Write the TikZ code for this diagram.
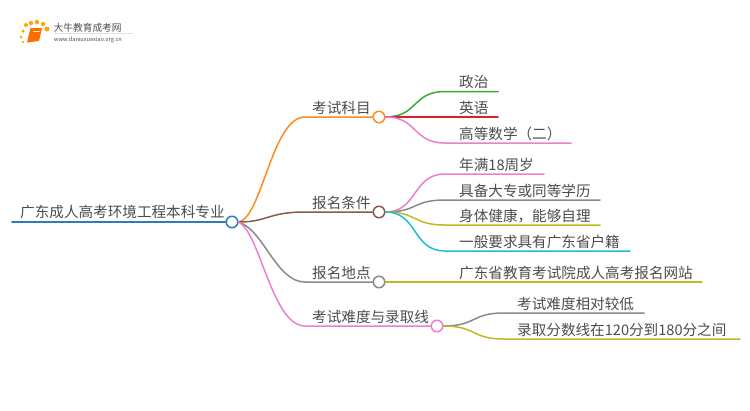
\documentclass[tikz,border=0pt]{standalone}
\usepackage{fontspec}
\setmainfont{Noto Sans CJK SC}
\definecolor{rootblue}{HTML}{2B7DBC}
\definecolor{orangeline}{HTML}{FF8A1F}
\definecolor{brownline}{HTML}{8C5A4D}
\definecolor{grayline}{HTML}{8A8A8A}
\definecolor{pinkline}{HTML}{EC7FCF}
\definecolor{greenline}{HTML}{3BAA35}
\definecolor{redline}{HTML}{DD1F2B}
\definecolor{oliveline}{HTML}{BDBB22}
\definecolor{cyanline}{HTML}{1DBFD6}
\definecolor{labelgray}{HTML}{4D4D4D}
\tikzset{
    label/.style={anchor=base west, inner sep=0pt, text=labelgray, font=\fontsize{14.6}{16}\selectfont},
    dot/.style={circle, draw=#1, fill=white, line width=1.5pt, minimum size=11.5pt, inner sep=0pt},
    branch/.style={draw=#1, line width=1.5pt, line cap=round},
    sun/.style={circle, fill=orange!70!yellow, inner sep=0pt, minimum size=#1}
}
\begin{document}
\begin{tikzpicture}[x=1pt,y=-1pt]
    \useasboundingbox[fill=white] (0,0) rectangle (750,410);

    % Logo
    \node[sun=2.5pt] (sunA) at (23,42) {};
    \node[sun=3pt] (sunB) at (21,37) {};
    \node[sun=3.5pt] (sunC) at (23,31) {};
    \node[sun=4pt] (sunD) at (26,25) {};
    \node[sun=4.5pt] (sunE) at (31,23) {};
    \node[sun=4.5pt] (sunF) at (37,22) {};
    \node[sun=4.5pt] (sunG) at (43,24) {};
    \node[sun=5pt] (sunH) at (47,29) {};
    \fill[orange!85!red] (30.5,28) -- (42,28) -- (39,41) -- (27,42.5) -- cycle;
    \draw[yellow!60!white, line width=0.7pt] (33,31) -- (39.5,31);
    \node[anchor=base west, inner sep=0pt, text=labelgray, font=\fontsize{9.7}{11}\selectfont] (logotitle) at (53.5,31) {大牛教育成考网};
    \node[anchor=base west, inner sep=0pt, text=labelgray, font=\fontsize{5.6}{7}\selectfont] (logourl) at (54,41) {www.daniuxuexiao.org.cn};
    \draw[black!12, line width=0.5pt] (55,33.5) -- (133,33.5);

    % Root
    \node[label] (root) at (20,217.5) {广东成人高考环境工程本科专业};
    \coordinate (rootstart) at (12,222);
    \node[dot=rootblue] (rootdot) at (232,222) {};
    \draw[branch=rootblue, line width=2pt] (rootstart) -- (rootdot);

    % Branch dots
    \node[dot=orangeline] (kemudot) at (379,117) {};
    \node[dot=brownline] (tiaojiandot) at (379,212) {};
    \node[dot=grayline] (didiandot) at (379,282) {};
    \node[dot=pinkline] (nandudot) at (437,326) {};

    % Branch labels
    \node[label] (kemu) at (312,113) {考试科目};
    \node[label] (tiaojian) at (312,208) {报名条件};
    \node[label] (didian) at (312,278) {报名地点};
    \node[label] (nandu) at (312,322) {考试难度与录取线};

    % Root to branches
    \coordinate (kemuelbow) at (305,117);
    \coordinate (tiaojianelbow) at (305,212);
    \coordinate (didianelbow) at (305,282);
    \coordinate (nanduelbow) at (305,326);
    \draw[branch=orangeline] (rootdot.east) .. controls (262,218) and (272,117) .. (kemuelbow) -- (kemudot);
    \draw[branch=brownline] (rootdot.east) .. controls (268,222) and (268,212) .. (tiaojianelbow) -- (tiaojiandot);
    \draw[branch=grayline] (rootdot.east) .. controls (264,230) and (276,282) .. (didianelbow) -- (didiandot);
    \draw[branch=pinkline] (rootdot.east) .. controls (260,232) and (272,326) .. (nanduelbow) -- (nandudot);

    % Leaves of first branch
    \node[label] (zhengzhi) at (459,87.5) {政治};
    \node[label] (yingyu) at (459,113) {英语};
    \node[label] (shuxue) at (459,139) {高等数学（二）};
    \coordinate (zhengzhiend) at (498,91.5);
    \coordinate (yingyuend) at (498,117);
    \coordinate (shuxueend) at (571,143);
    \draw[branch=greenline] (kemudot.east) .. controls (418,117) and (412,91.5) .. (445,91.5) -- (zhengzhiend);
    \draw[branch=redline] (kemudot.east) -- (yingyuend);
    \draw[branch=pinkline] (kemudot.east) .. controls (418,117) and (412,143) .. (445,143) -- (shuxueend);

    % Leaves of second branch
    \node[label] (nianling) at (459,170) {年满18周岁};
    \node[label] (xueli) at (459,196) {具备大专或同等学历};
    \node[label] (shenti) at (459,221) {身体健康，能够自理};
    \node[label] (huji) at (459,247) {一般要求具有广东省户籍};
    \coordinate (nianlingend) at (544,174);
    \coordinate (xueliend) at (600,200);
    \coordinate (shentiend) at (600,225);
    \coordinate (hujiend) at (630,251);
    \draw[branch=pinkline] (tiaojiandot.east) .. controls (418,212) and (412,174) .. (445,174) -- (nianlingend);
    \draw[branch=grayline] (tiaojiandot.east) .. controls (418,212) and (412,200) .. (445,200) -- (xueliend);
    \draw[branch=oliveline] (tiaojiandot.east) .. controls (418,212) and (412,225) .. (445,225) -- (shentiend);
    \draw[branch=cyanline] (tiaojiandot.east) .. controls (418,212) and (412,251) .. (445,251) -- (hujiend);

    % Leaf of third branch
    \node[label] (wangzhan) at (459,278) {广东省教育考试院成人高考报名网站};
    \coordinate (wangzhanend) at (702,282);
    \draw[branch=oliveline] (didiandot.east) -- (wangzhanend);

    % Leaves of fourth branch
    \node[label] (nanduleaf) at (517,309) {考试难度相对较低};
    \node[label] (fenshu) at (517,335) {录取分数线在120分到180分之间};
    \coordinate (nanduleafend) at (644,313);
    \coordinate (fenshuend) at (740,339);
    \draw[branch=grayline] (nandudot.east) .. controls (476,326) and (472,313) .. (503,313) -- (nanduleafend);
    \draw[branch=oliveline] (nandudot.east) .. controls (476,326) and (472,339) .. (503,339) -- (fenshuend);
\end{tikzpicture}
\end{document}
